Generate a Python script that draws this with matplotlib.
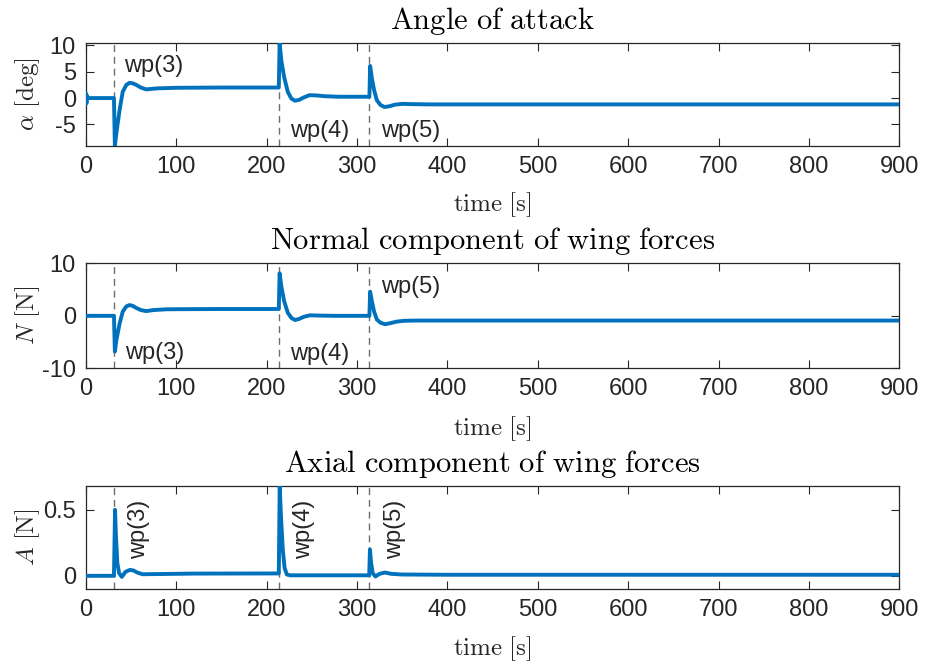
import matplotlib
matplotlib.use("Agg")
import matplotlib.pyplot as plt

plt.rcParams['font.family'] = ['Liberation Sans', 'DejaVu Sans']
plt.rcParams['mathtext.fontset'] = 'cm'

# -----------------------------
# DATA
# -----------------------------
wp_times = [31.5, 213.6, 313.8]
wp_names = ['wp(3)', 'wp(4)', 'wp(5)']

# angle of attack [deg]
alpha_t = [0, 0.4, 0.9, 1.4, 2.0, 31.3, 32.3, 34.0, 37.5, 41.0,
           45.0, 48.5, 52.0, 56.0, 61.0, 67.0, 73.0, 80.0, 100, 150,
           213.6, 214.5, 216.5, 219.5, 223.5, 227.5, 231.5, 236.0, 241.0, 247.5,
           255.0, 265.0, 280.0, 313.8, 314.6, 316.5, 319.0, 322.0, 326.0, 330.5,
           336.0, 342.0, 350.0, 360.0, 380.0, 900]
alpha_v = [0, 0.9, -1.0, 0.5, 0.0, 0.0, -9.1, -6.6, -2.3, 1.2,
           2.5, 2.9, 2.8, 2.5, 2.0, 1.65, 1.75, 1.85, 1.95, 2.0,
           2.0, 10.4, 7.0, 4.0, 1.2, -0.1, -0.5, -0.35, 0.1, 0.55,
           0.5, 0.35, 0.25, 0.25, 6.1, 3.8, 1.5, -0.4, -1.3, -1.7,
           -1.55, -1.25, -1.1, -1.15, -1.2, -1.2]

# normal force [N]
n_t = [0, 31.3, 32.3, 34.0, 37.5, 41.0, 45.0, 48.5, 52.0, 56.0,
       61.0, 67.0, 75.0, 90, 150, 213.6, 214.5, 216.5, 219.5, 223.5,
       227.5, 231.5, 236.0, 241.0, 248.0, 258.0, 275.0, 313.8, 314.6, 316.5,
       319.0, 322.0, 326.0, 331.0, 337.0, 344.0, 352.0, 365.0, 400, 900]
n_v = [0, 0, -6.8, -4.6, -1.5, 0.8, 1.8, 2.05, 1.9, 1.5,
       1.1, 0.9, 1.1, 1.25, 1.3, 1.3, 8.1, 5.5, 2.8, 0.6,
       -0.4, -0.8, -0.6, -0.2, 0.1, 0.05, 0.0, 0.0, 4.6, 2.8,
       0.8, -0.7, -1.3, -1.6, -1.4, -1.1, -0.95, -0.9, -0.9, -0.9]

# axial force [N]
a_t = [0, 31.3, 32.5, 33.5, 35.0, 37.0, 40.0, 44.0, 49.0, 53.0,
       57.0, 63.0, 75.0, 120, 213.6, 214.6, 216.0, 218.0, 220.0, 222.5,
       226.0, 240, 313.6, 314.4, 315.6, 317.5, 320.5, 325.0, 331.0, 338.0,
       350.0, 400, 900]
a_v = [0, 0, 0.50, 0.30, 0.10, 0.02, -0.008, 0.03, 0.045, 0.04,
       0.025, 0.012, 0.013, 0.017, 0.018, 0.68, 0.45, 0.20, 0.06, 0.01,
       0.004, 0.004, 0.004, 0.20, 0.10, 0.02, -0.005, 0.015, 0.025, 0.015,
       0.01, 0.008, 0.008]

# label anchors per panel (x, y)
alpha_lbl = [(42, 6.0), (226, -6.2), (326.5, -6.2)]
n_lbl = [(43, -7.1), (226, -7.3), (327, 5.5)]
a_lbl = [(59.5, 0.125), (241.6, 0.125), (341.8, 0.125)]

# -----------------------------
BLUE = '#0072BD'
DARK = '#262626'

fig = plt.figure(figsize=(9.27, 6.67), dpi=100)
ax1 = fig.add_axes([0.0924, 0.7811, 0.8779, 0.1540])
ax2 = fig.add_axes([0.0924, 0.4478, 0.8779, 0.1574])
ax3 = fig.add_axes([0.0924, 0.1169, 0.8779, 0.1544])


def style(ax, ylim, yticks, yticklabels, title, ylabel):
    ax.set_xlim(0, 900)
    ax.set_ylim(*ylim)
    ax.set_xticks(range(0, 901, 100))
    ax.set_yticks(yticks)
    ax.set_yticklabels(yticklabels)
    ax.tick_params(direction='in', length=6, width=0.8, colors=DARK,
                   labelsize=17, top=True, right=True, pad=7)
    for s in ax.spines.values():
        s.set_color(DARK)
        s.set_linewidth(0.9)
    ax.set_title(title, fontsize=22, pad=10, color='black')
    ax.set_ylabel(ylabel, fontsize=18, color=DARK, va='center')
    ax.yaxis.set_label_coords(-0.071, 0.5)
    ax.set_xlabel(r'$\mathrm{time\ [s]}$', fontsize=18, color=DARK, va='center')
    ax.xaxis.set_label_coords(0.5, -0.575)
    for w in wp_times:
        ax.axvline(w, color='#6e6e6e', lw=1.0, ls=(0, (5, 3.5)), zorder=1)


ax1.plot(alpha_t, alpha_v, color=BLUE, lw=2.8, zorder=3)
style(ax1, (-9.1, 10.4), [-5, 0, 5, 10], ['-5', '0', '5', '10'],
      r'$\mathrm{Angle\ of\ attack}$', r'$\alpha\ \mathrm{[deg]}$')
for (x, y), s in zip(alpha_lbl, wp_names):
    ax1.text(x, y, s, fontsize=17, color=DARK, ha='left', va='center')

ax2.plot(n_t, n_v, color=BLUE, lw=2.8, zorder=3)
style(ax2, (-10, 10), [-10, 0, 10], ['-10', '0', '10'],
      r'$\mathrm{Normal\ component\ of\ wing\ forces}$', r'$N\ \mathrm{[N]}$')
for (x, y), s in zip(n_lbl, wp_names):
    ax2.text(x, y, s, fontsize=17, color=DARK, ha='left', va='center')

ax3.plot(a_t, a_v, color=BLUE, lw=2.8, zorder=3)
style(ax3, (-0.1, 0.68), [0, 0.5], ['0', '0.5'],
      r'$\mathrm{Axial\ component\ of\ wing\ forces}$', r'$A\ \mathrm{[N]}$')
for (x, y), s in zip(a_lbl, wp_names):
    ax3.text(x, y, s, fontsize=17, color=DARK, ha='center', va='bottom', rotation=90)

fig.savefig('out.png', dpi=100)
